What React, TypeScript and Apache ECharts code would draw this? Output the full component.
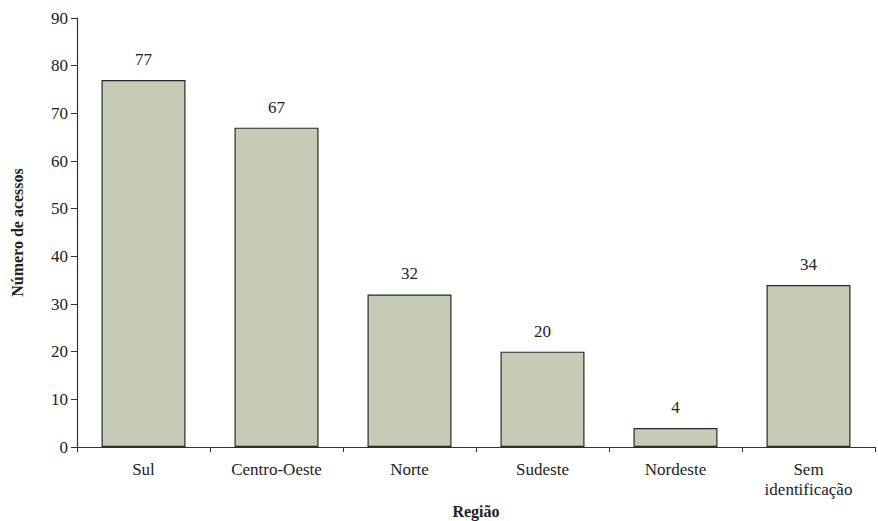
import React, { useEffect, useRef } from "react";
import * as echarts from "echarts";

const categories = ["Sul", "Centro-Oeste", "Norte", "Sudeste", "Nordeste", "Sem identificação"];
const values = [77, 67, 32, 20, 4, 34];
const yTicks = [0, 10, 20, 30, 40, 50, 60, 70, 80, 90];

const SERIF = "Liberation Serif, Times New Roman, serif";

export default function App() {
  const ref = useRef<HTMLDivElement>(null);
  useEffect(() => {
    if (!ref.current) return;
    const chart = echarts.init(ref.current, undefined, { renderer: "svg" });
    chart.setOption({
      animation: false,
      backgroundColor: "#ffffff",
      grid: { left: 77, right: 3, top: 18, bottom: 74, containLabel: false, outerBoundsMode: "none" },
      xAxis: {
        type: "category",
        data: categories,
        name: "Região",
        nameLocation: "middle",
        nameGap: 54,
        nameTextStyle: { fontFamily: SERIF, fontWeight: "bold", fontSize: 16, color: "#222" },
        axisLine: { lineStyle: { color: "#333", width: 1.2 } },
        axisTick: { show: true, alignWithLabel: false, length: 5, lineStyle: { color: "#333" } },
        axisLabel: {
          interval: 0,
          fontFamily: "Liberation Serif",
          fontSize: 17,
          fontWeight: 300,
          color: "#222",
          margin: 12,
          lineHeight: 20,
          formatter: (v: string) => v.replace(" ", "\n"),
        },
      },
      yAxis: {
        type: "value",
        min: 0,
        max: 90,
        interval: 10,
        name: "Número de acessos",
        nameLocation: "middle",
        nameGap: 52,
        nameRotate: 90,
        nameTextStyle: { fontFamily: SERIF, fontWeight: "bold", fontSize: 16, color: "#222" },
        axisLine: { show: true, lineStyle: { color: "#333", width: 1.2 } },
        axisTick: { show: true, length: 6, lineStyle: { color: "#333" } },
        splitLine: { show: false },
        axisLabel: {
          fontFamily: "Liberation Serif",
          fontSize: 17,
          fontWeight: 500,
          color: "#222",
          margin: 9,
          formatter: (v: number) => (yTicks.includes(v) ? String(v) : ""),
        },
      },
      series: [
        {
          type: "bar",
          data: values,
          barWidth: 84,
          itemStyle: { color: "#c6cbb6", borderColor: "#2a2a2a", borderWidth: 1.2 },
          label: {
            show: true,
            position: "top",
            distance: 12,
            fontFamily: "Times New Roman",
            fontStyle: "normal",
            fontWeight: 400,
            fontSize: 17,
            color: "#222",
          },
        },
      ],
    });
    return () => chart.dispose();
  }, []);
  return <div ref={ref} style={{ width: 878, height: 521, position: "absolute", left: 0, top: 0 }} />;
}
